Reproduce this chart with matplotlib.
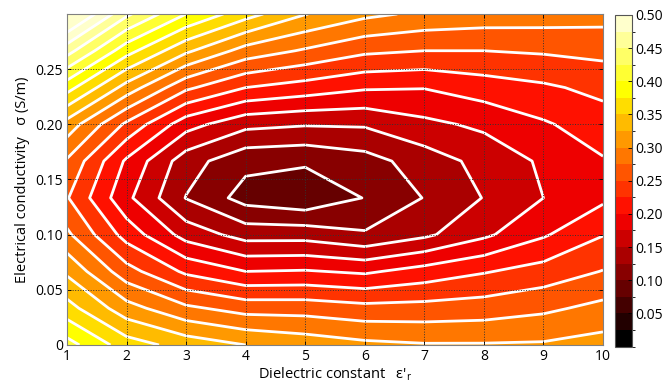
import numpy as np
import matplotlib
matplotlib.use("Agg")
import matplotlib.pyplot as plt
from matplotlib.colors import ListedColormap, BoundaryNorm
from matplotlib.cm import ScalarMappable

# ---- data ----
eps_r = [1, 2, 3, 4, 5, 6, 7, 8, 9, 10]
sigma = [0.0, 0.0333, 0.0667, 0.1, 0.1333, 0.1667, 0.2, 0.2333, 0.2667, 0.3]

# misfit values, one row per sigma value, columns follow eps_r
z_s00 = [0.41, 0.362, 0.34, 0.325, 0.315, 0.306, 0.302, 0.302, 0.303, 0.31]
z_s01 = [0.36, 0.31, 0.28, 0.265, 0.2645, 0.258, 0.259, 0.262, 0.27, 0.282]
z_s02 = [0.32, 0.26, 0.22, 0.20, 0.202, 0.196, 0.21, 0.223, 0.235, 0.251]
z_s03 = [0.28, 0.215, 0.165, 0.14, 0.14, 0.128, 0.145, 0.17, 0.197, 0.224]
z_s04 = [0.252, 0.181, 0.124, 0.09, 0.08, 0.101, 0.126, 0.151, 0.175, 0.195]
z_s05 = [0.272, 0.196, 0.136, 0.107, 0.104, 0.115, 0.137, 0.158, 0.179, 0.198]
z_s06 = [0.315, 0.245, 0.185, 0.157, 0.152, 0.153, 0.169, 0.18, 0.197, 0.213]
z_s07 = [0.385, 0.315, 0.255, 0.225, 0.214, 0.203, 0.201, 0.2125, 0.221, 0.232]
z_s08 = [0.46, 0.385, 0.33, 0.29, 0.272, 0.255, 0.25, 0.25, 0.253, 0.257]
z_s09 = [0.54, 0.455, 0.40, 0.36, 0.326, 0.306, 0.295, 0.29, 0.288, 0.285]

levels = [0.0, 0.025, 0.05, 0.075, 0.1, 0.125, 0.15, 0.175, 0.2, 0.225, 0.25,
          0.275, 0.3, 0.325, 0.35, 0.375, 0.4, 0.425, 0.45, 0.475, 0.5]
cbar_ticks = [0.05, 0.10, 0.15, 0.20, 0.25, 0.30, 0.35, 0.40, 0.45, 0.50]
x_ticks = [1, 2, 3, 4, 5, 6, 7, 8, 9, 10]
y_ticks = [0, 0.05, 0.10, 0.15, 0.20, 0.25]
y_ticklabels = ["0", "0.05", "0.10", "0.15", "0.20", "0.25"]

Z = np.array([z_s00, z_s01, z_s02, z_s03, z_s04, z_s05, z_s06, z_s07, z_s08, z_s09])
X, Y = np.meshgrid(eps_r, sigma)

# MATLAB-like "hot" colormap, one colour per band
nb = len(levels) - 1
f = np.arange(nb) / nb
r = np.clip(f * 8 / 3, 0, 1)
g = np.clip(f * 8 / 3 - 1, 0, 1)
b = np.clip(4 * f - 3, 0, 1)
cols = np.column_stack([r, g, b])
cmap = ListedColormap(cols)
cmap.set_over(cols[-1])
norm = BoundaryNorm(levels, cmap.N)

plt.rcParams['font.family'] = ['Open Sans', 'DejaVu Sans']
plt.rcParams['mathtext.fontset'] = 'custom'
plt.rcParams['mathtext.rm'] = 'Open Sans'
plt.rcParams['mathtext.it'] = 'Open Sans'

fig = plt.figure(figsize=(6.62, 3.85), dpi=100)
ax = fig.add_axes([67 / 662, 40 / 385, 536 / 662, 331 / 385])
cax = fig.add_axes([615 / 662, 38.5 / 385, 17 / 662, 331.5 / 385])

cf = ax.contourf(X, Y, Z, levels=levels, cmap=cmap, norm=norm, extend='max')
ax.contour(X, Y, Z, levels=levels, colors='white', linewidths=2.0)

ax.set_xlim(1, 10)
ax.set_ylim(0, 0.3)
ax.set_xticks(x_ticks)
ax.set_yticks(y_ticks)
ax.set_yticklabels(y_ticklabels)
ax.tick_params(direction='in', length=3, labelsize=10, width=0.6,
               top=True, right=True, pad=3)
ax.set_axisbelow(False)
ax.grid(True, linestyle=':', color='#333333', linewidth=0.7, zorder=5)
for s in ax.spines.values():
    s.set_color('#808080')
    s.set_linewidth(0.8)
    s.set_zorder(6)

ax.set_xlabel("Dielectric constant   \u03b5$'_{\\rm r}$", fontsize=10.5)
ax.xaxis.set_label_coords(0.5, -0.062)
ax.set_ylabel("Electrical conductivity   \u03c3 (S/m)", fontsize=10.5, labelpad=4)

sm = ScalarMappable(norm=norm, cmap=ListedColormap(cols))
cb = fig.colorbar(sm, cax=cax, ticks=cbar_ticks)
cb.ax.set_yticklabels(["%.2f" % t for t in cbar_ticks])
cb.ax.tick_params(labelsize=10, direction='in', length=3, width=0.6, pad=2)
cb.outline.set_edgecolor('#555555')
cb.outline.set_linewidth(0.8)

fig.savefig("out.png", dpi=100, facecolor='white')
